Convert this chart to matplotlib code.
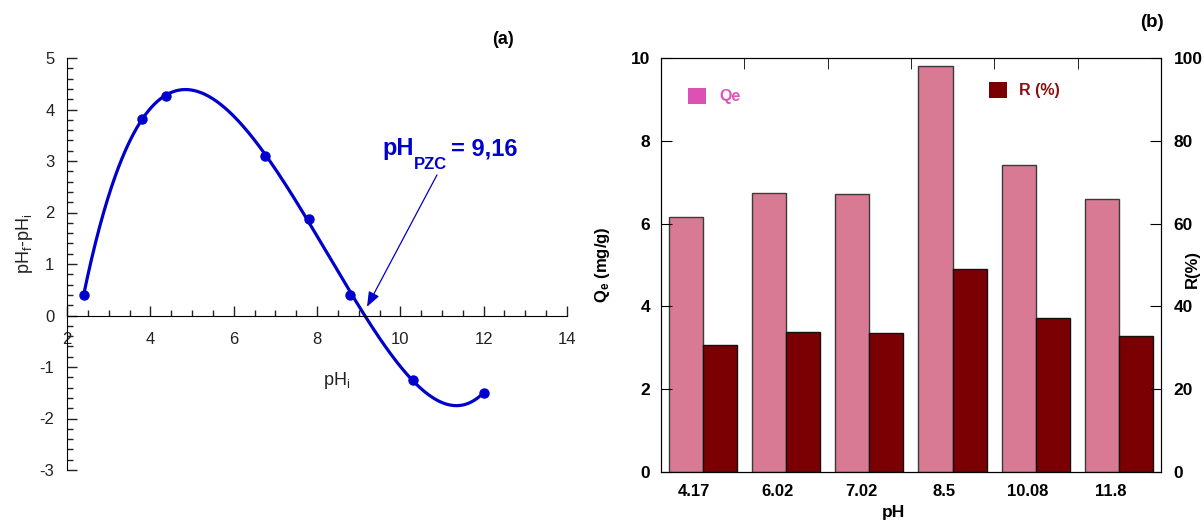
import numpy as np
import matplotlib
matplotlib.use("Agg")
import matplotlib.pyplot as plt
import matplotlib.transforms as mtransforms
from matplotlib.patches import Patch
from matplotlib.ticker import MultipleLocator, FixedLocator

plt.rcParams['font.family'] = ['Liberation Sans', 'DejaVu Sans']
plt.rcParams['mathtext.default'] = 'regular'
plt.rcParams['axes.unicode_minus'] = False

# ---------------- data ----------------
phi = [2.4, 3.8, 4.38, 6.76, 7.8, 8.8, 10.3, 12.0]
dph = [0.4, 3.82, 4.27, 3.1, 1.88, 0.4, -1.25, -1.5]

ph_labels = ['4.17', '6.02', '7.02', '8.5', '10.08', '11.8']
qe = [6.17, 6.75, 6.71, 9.81, 7.42, 6.59]
removal = [30.7, 33.7, 33.5, 49.0, 37.1, 32.9]

fig = plt.figure(figsize=(12.04, 5.22), dpi=100)

# ---------------- panel (a) ----------------
ax1 = fig.add_axes([67 / 1204, 52 / 522, 500 / 1204, 412 / 522])
blue = '#0000CC'
xs = np.linspace(min(phi), max(phi), 400)
coef = np.polyfit(phi, dph, 5)
ax1.plot(xs, np.polyval(coef, xs), color=blue, lw=2.3)
ax1.plot(phi, dph, 'o', color=blue, ms=6.5)

ax1.set_xlim(2, 14)
ax1.set_ylim(-3, 5)
ax1.spines['top'].set_visible(False)
ax1.spines['right'].set_visible(False)
ax1.spines['bottom'].set_position(('data', 0))
ax1.xaxis.set_major_locator(MultipleLocator(2))
ax1.xaxis.set_minor_locator(MultipleLocator(0.5))
ax1.yaxis.set_major_locator(MultipleLocator(1))
ax1.yaxis.set_minor_locator(MultipleLocator(0.2))
ax1.tick_params(axis='both', which='major', direction='in', length=7, width=1,
                labelsize=12, colors='#222222')
ax1.tick_params(axis='both', which='minor', direction='in', length=4, width=1,
                colors='#222222')
ax1.tick_params(axis='x', which='major', pad=12)
ax1.tick_params(axis='y', which='major', pad=9)
ax1.set_xlabel('pH$_i$', fontsize=13, color='#222222')
ax1.xaxis.set_label_coords(0.54, 0.243)
ax1.set_ylabel('pH$_f$-pH$_i$', fontsize=13, color='#222222')
ax1.yaxis.set_label_coords(-0.064, 0.55)
ax1.text(0.872, 1.044, '(a)', transform=ax1.transAxes, fontsize=13,
         fontweight='bold', ha='center', va='center')

# pH_PZC label
tx, ty = 9.58, 3.11
ax1.text(tx, ty, 'pH', color=blue, fontsize=17, fontweight='bold',
         ha='left', va='baseline')
tr = mtransforms.offset_copy(ax1.transData, fig=fig, x=22.5, y=-9.5, units='points')
ax1.text(tx, ty, 'PZC', color=blue, fontsize=12, fontweight='bold',
         ha='left', va='baseline', transform=tr)
tr2 = mtransforms.offset_copy(ax1.transData, fig=fig, x=49, y=0, units='points')
ax1.text(tx, ty, '= 9,16', color=blue, fontsize=17, fontweight='bold',
         ha='left', va='baseline', transform=tr2)
ax1.annotate('', xy=(9.2, 0.17), xytext=(10.88, 2.73),
             arrowprops=dict(arrowstyle='-|>,head_length=0.9,head_width=0.35',
                             color=blue, lw=0.9, shrinkA=0, shrinkB=0))

# ---------------- panel (b) ----------------
ax2 = fig.add_axes([661 / 1204, 50 / 522, 500 / 1204, 414 / 522])
pos = np.arange(len(ph_labels))
w = 0.41
pink = '#D87A93'
dark = '#7A0003'
ax2.bar(pos - w / 2, qe, width=w, color=pink, edgecolor='#3a3a3a', linewidth=1)
ax2.set_xlim(-0.5, len(ph_labels) - 0.5)
ax2.set_ylim(0, 10)
ax3 = ax2.twinx()
ax3.bar(pos + w / 2, removal, width=w, color=dark, edgecolor='#111111', linewidth=1)
ax3.set_ylim(0, 100)

ax2.xaxis.set_major_locator(FixedLocator(pos - 0.1))
ax2.set_xticklabels(ph_labels)
ax2.xaxis.set_minor_locator(FixedLocator(pos[:-1] + 0.5))
ax2.tick_params(axis='x', which='major', length=0, pad=9, labelsize=12)
ax2.tick_params(axis='x', which='minor', top=True, bottom=False, direction='in',
                length=8)
ax2.yaxis.set_major_locator(MultipleLocator(2))
ax2.tick_params(axis='y', which='major', direction='in', length=8, pad=8,
                labelsize=12.5)
ax3.yaxis.set_major_locator(MultipleLocator(20))
ax3.tick_params(axis='y', which='major', direction='in', length=8, pad=9,
                labelsize=12.5)
for a in (ax2, ax3):
    for lab in a.get_xticklabels() + a.get_yticklabels():
        lab.set_fontweight('bold')
ax2.set_xlabel('pH', fontsize=12.5, fontweight='bold')
ax2.xaxis.set_label_coords(0.465, -0.08)
ax2.set_ylabel('Q$_e$ (mg/g)', fontsize=12, fontweight='bold')
ax2.yaxis.set_label_coords(-0.098, 0.5)
ax3.set_ylabel('R(%)', fontsize=12, fontweight='bold')
ax3.yaxis.set_label_coords(1.048, 0.49)
ax2.text(0.982, 1.085, '(b)', transform=ax2.transAxes, fontsize=13.5,
         fontweight='bold', ha='center', va='center')

leg1 = ax3.legend(handles=[Patch(facecolor='#DD50B4', edgecolor='none')],
                  labels=['Qe'], loc='center left', bbox_to_anchor=(0.054, 0.908),
                  frameon=False, borderpad=0, borderaxespad=0, handlelength=1.1,
                  handleheight=1.15, handletextpad=0.85,
                  prop={'weight': 'bold', 'size': 11.5}, labelcolor='#E055BB')
ax3.add_artist(leg1)
ax3.legend(handles=[Patch(facecolor='#7A0003', edgecolor='none')],
           labels=['R (%)'], loc='center left', bbox_to_anchor=(0.656, 0.923),
           frameon=False, borderpad=0, borderaxespad=0, handlelength=1.1,
           handleheight=1.15, handletextpad=0.75,
           prop={'weight': 'bold', 'size': 11.5}, labelcolor='#8B1010')

fig.savefig('out.png', dpi=100)
